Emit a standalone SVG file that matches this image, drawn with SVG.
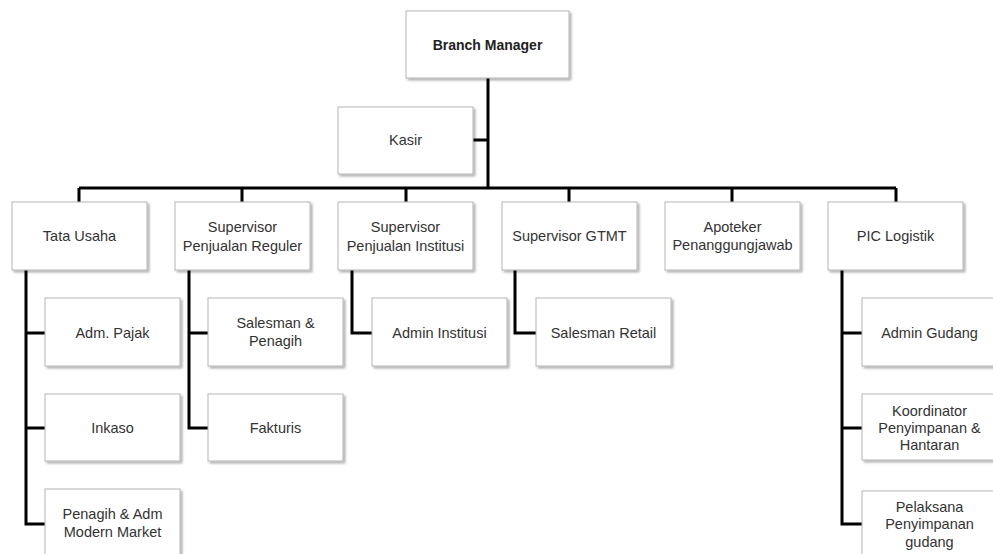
<svg xmlns="http://www.w3.org/2000/svg" width="993" height="554" viewBox="0 0 993 554">
<defs>
<filter id="sh" x="-10%" y="-10%" width="125%" height="130%">
<feDropShadow dx="2" dy="2" stdDeviation="1.2" flood-color="#000" flood-opacity="0.3"/>
</filter>
<style>
.box{fill:#fff;stroke:#b5b5b5;stroke-width:1;filter:url(#sh)}
.t{font-family:"Liberation Sans",Arial,sans-serif;font-size:14.5px;fill:#333;text-anchor:middle;dominant-baseline:central}
.b{font-weight:bold;fill:#222;font-size:14px}
.c{fill:none;stroke:#000;stroke-width:3;stroke-linejoin:miter}
</style>
</defs>
<rect width="993" height="554" fill="#fff"/>
<g id="connectors">
<path class="c" d="M488,78V188M473,140H488M79,188H896M79,188V202M242,188V202M406,188V202M569,188V202M732,188V202M896,188V202"/>
<path class="c" d="M26,270V524H45M26,333H45M26,428H45"/>
<path class="c" d="M189,270V428H208M189,333H208"/>
<path class="c" d="M352,270V333H372"/>
<path class="c" d="M515,270V333H536"/>
<path class="c" d="M842,270V524H862M842,333H862M842,428H862"/>
</g>
<g id="branch-manager"><rect class="box" x="406" y="11" width="163" height="67"/><text class="t b" x="487.5" y="45">Branch Manager</text></g>
<g id="kasir"><rect class="box" x="338" y="107" width="135" height="67"/><text class="t" x="405.5" y="140">Kasir</text></g>
<g id="tata-usaha"><rect class="box" x="12" y="202" width="135" height="68"/><text class="t" x="79.5" y="236">Tata Usaha</text></g>
<g id="sup-reguler"><rect class="box" x="175" y="202" width="135" height="68"/><text class="t" x="242.5" y="227">Supervisor</text><text class="t" x="242.5" y="246">Penjualan Reguler</text></g>
<g id="sup-institusi"><rect class="box" x="338" y="202" width="135" height="68"/><text class="t" x="405.5" y="227">Supervisor</text><text class="t" x="405.5" y="246">Penjualan Institusi</text></g>
<g id="sup-gtmt"><rect class="box" x="502" y="202" width="135" height="68"/><text class="t" x="569.5" y="236">Supervisor GTMT</text></g>
<g id="apoteker"><rect class="box" x="665" y="202" width="135" height="68"/><text class="t" x="732.5" y="227">Apoteker</text><text class="t" x="732.5" y="245">Penanggungjawab</text></g>
<g id="pic-logistik"><rect class="box" x="828" y="202" width="135" height="68"/><text class="t" x="895.5" y="236">PIC Logistik</text></g>
<g id="adm-pajak"><rect class="box" x="45" y="298" width="135" height="68"/><text class="t" x="112.5" y="333">Adm. Pajak</text></g>
<g id="inkaso"><rect class="box" x="45" y="394" width="135" height="67"/><text class="t" x="112.5" y="428">Inkaso</text></g>
<g id="penagih-adm"><rect class="box" x="45" y="489" width="135" height="68"/><text class="t" x="112.5" y="514">Penagih &amp; Adm</text><text class="t" x="112.5" y="532">Modern Market</text></g>
<g id="salesman-penagih"><rect class="box" x="208" y="298" width="135" height="68"/><text class="t" x="275.5" y="323">Salesman &amp;</text><text class="t" x="275.5" y="341">Penagih</text></g>
<g id="fakturis"><rect class="box" x="208" y="394" width="135" height="67"/><text class="t" x="275.5" y="428">Fakturis</text></g>
<g id="admin-institusi"><rect class="box" x="372" y="298" width="135" height="68"/><text class="t" x="439.5" y="333">Admin Institusi</text></g>
<g id="salesman-retail"><rect class="box" x="536" y="298" width="135" height="68"/><text class="t" x="603.5" y="333">Salesman Retail</text></g>
<g id="admin-gudang"><rect class="box" x="862" y="298" width="135" height="68"/><text class="t" x="929.5" y="333">Admin Gudang</text></g>
<g id="koordinator"><rect class="box" x="862" y="394" width="135" height="66"/><text class="t" x="929.5" y="411">Koordinator</text><text class="t" x="929.5" y="428">Penyimpanan &amp;</text><text class="t" x="929.5" y="445">Hantaran</text></g>
<g id="pelaksana"><rect class="box" x="862" y="491" width="135" height="68"/><text class="t" x="929.5" y="507">Pelaksana</text><text class="t" x="929.5" y="524">Penyimpanan</text><text class="t" x="929.5" y="542">gudang</text></g>
</svg>
